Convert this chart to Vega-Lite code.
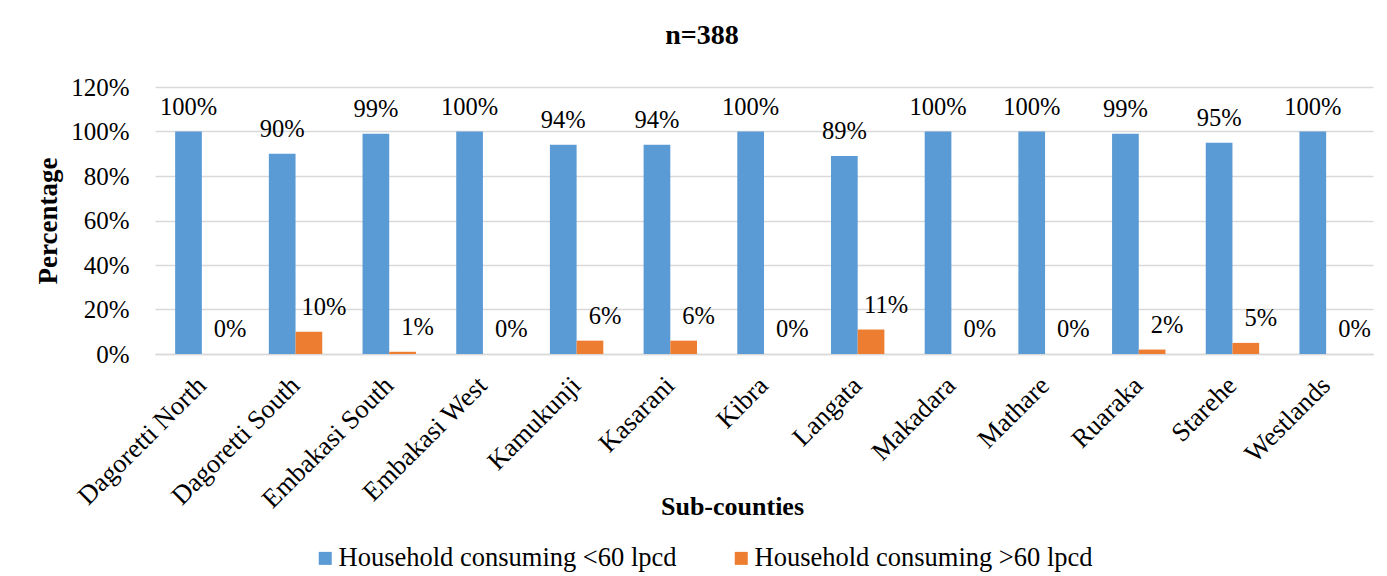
{
  "$schema": "https://vega.github.io/schema/vega-lite/v6.json",
  "width": 1218,
  "height": 267,
  "autosize": {"type": "none"},
  "padding": {"left": 155, "top": 87, "right": 14, "bottom": 222},
  "background": "white",
  "title": {
    "text": "n=388",
    "font": "Liberation Serif",
    "fontSize": 28,
    "fontWeight": "bold",
    "color": "black",
    "anchor": "middle",
    "frame": "group",
    "dx": -62,
    "offset": 25
  },
  "config": {
    "view": {"stroke": null},
    "font": "Liberation Serif",
    "mark": {"font": "Liberation Serif"},
    "text": {"font": "Liberation Serif"}
  },
  "data": {
    "values": [
      {"subcounty": "Dagoretti North", "series": "Household consuming <60 lpcd", "pct": 1.00},
      {"subcounty": "Dagoretti North", "series": "Household consuming >60 lpcd", "pct": 0.00},
      {"subcounty": "Dagoretti South", "series": "Household consuming <60 lpcd", "pct": 0.90},
      {"subcounty": "Dagoretti South", "series": "Household consuming >60 lpcd", "pct": 0.10},
      {"subcounty": "Embakasi South", "series": "Household consuming <60 lpcd", "pct": 0.99},
      {"subcounty": "Embakasi South", "series": "Household consuming >60 lpcd", "pct": 0.01},
      {"subcounty": "Embakasi West", "series": "Household consuming <60 lpcd", "pct": 1.00},
      {"subcounty": "Embakasi West", "series": "Household consuming >60 lpcd", "pct": 0.00},
      {"subcounty": "Kamukunji", "series": "Household consuming <60 lpcd", "pct": 0.94},
      {"subcounty": "Kamukunji", "series": "Household consuming >60 lpcd", "pct": 0.06},
      {"subcounty": "Kasarani", "series": "Household consuming <60 lpcd", "pct": 0.94},
      {"subcounty": "Kasarani", "series": "Household consuming >60 lpcd", "pct": 0.06},
      {"subcounty": "Kibra", "series": "Household consuming <60 lpcd", "pct": 1.00},
      {"subcounty": "Kibra", "series": "Household consuming >60 lpcd", "pct": 0.00},
      {"subcounty": "Langata", "series": "Household consuming <60 lpcd", "pct": 0.89},
      {"subcounty": "Langata", "series": "Household consuming >60 lpcd", "pct": 0.11},
      {"subcounty": "Makadara", "series": "Household consuming <60 lpcd", "pct": 1.00},
      {"subcounty": "Makadara", "series": "Household consuming >60 lpcd", "pct": 0.00},
      {"subcounty": "Mathare", "series": "Household consuming <60 lpcd", "pct": 1.00},
      {"subcounty": "Mathare", "series": "Household consuming >60 lpcd", "pct": 0.00},
      {"subcounty": "Ruaraka", "series": "Household consuming <60 lpcd", "pct": 0.99},
      {"subcounty": "Ruaraka", "series": "Household consuming >60 lpcd", "pct": 0.02},
      {"subcounty": "Starehe", "series": "Household consuming <60 lpcd", "pct": 0.95},
      {"subcounty": "Starehe", "series": "Household consuming >60 lpcd", "pct": 0.05},
      {"subcounty": "Westlands", "series": "Household consuming <60 lpcd", "pct": 1.00},
      {"subcounty": "Westlands", "series": "Household consuming >60 lpcd", "pct": 0.00}
    ]
  },
  "encoding": {
    "x": {
      "field": "subcounty",
      "type": "nominal",
      "sort": null,
      "scale": {"paddingInner": 0.43, "paddingOuter": 0.215},
      "axis": {
        "title": "Sub-counties",
        "titleFont": "Liberation Serif",
        "titleFontSize": 26,
        "titleFontWeight": "bold",
        "titleColor": "black",
        "titleX": 577,
        "titleY": 160,
        "titleBaseline": "alphabetic",
        "labelAngle": -45,
        "labelAlign": "right",
        "labelBaseline": "middle",
        "labelFont": "Liberation Serif",
        "labelFontSize": 26.5,
        "labelColor": "black",
        "labelPadding": 27,
        "ticks": false,
        "grid": false,
        "domainColor": "#d9d9d9",
        "domainWidth": 1.5
      }
    },
    "xOffset": {
      "field": "series",
      "type": "nominal",
      "sort": ["Household consuming <60 lpcd", "Household consuming >60 lpcd"],
      "scale": {"paddingInner": 0, "paddingOuter": 0}
    },
    "y": {
      "field": "pct",
      "type": "quantitative",
      "scale": {"domain": [0, 1.2]},
      "axis": {
        "title": "Percentage",
        "titleFont": "Liberation Serif",
        "titleFontSize": 27,
        "titleFontWeight": "bold",
        "titleColor": "black",
        "titlePadding": 8,
        "format": ".0%",
        "values": [0, 0.2, 0.4, 0.6, 0.8, 1.0, 1.2],
        "labelFont": "Liberation Serif",
        "labelFontSize": 25,
        "labelColor": "black",
        "labelPadding": 26,
        "ticks": false,
        "domain": false,
        "grid": true,
        "gridColor": "#d9d9d9",
        "gridWidth": 1.5
      }
    }
  },
  "layer": [
    {
      "mark": {"type": "bar"},
      "encoding": {
        "color": {
          "field": "series",
          "type": "nominal",
          "scale": {
            "domain": ["Household consuming <60 lpcd", "Household consuming >60 lpcd"],
            "range": ["#5b9bd5", "#ed7d31"]
          },
          "legend": {
            "title": null,
            "orient": "none",
            "direction": "horizontal",
            "legendX": 157,
            "legendY": 458,
            "symbolType": "square",
            "symbolSize": 169,
            "symbolStrokeWidth": 0,
            "symbolOpacity": 1,
            "labelFont": "Liberation Serif",
            "labelFontSize": 26.5,
            "labelColor": "black",
            "labelOffset": 0,
            "labelLimit": 600,
            "columnPadding": 51
          }
        }
      }
    },
    {
      "transform": [{"filter": "datum.series === 'Household consuming <60 lpcd'"}],
      "mark": {
        "type": "text",
        "font": "Liberation Serif",
        "fontSize": 24.5,
        "color": "black",
        "baseline": "alphabetic",
        "dy": -17
      },
      "encoding": {"text": {"field": "pct", "type": "quantitative", "format": ".0%"}}
    },
    {
      "transform": [{"filter": "datum.series === 'Household consuming >60 lpcd'"}],
      "mark": {
        "type": "text",
        "font": "Liberation Serif",
        "fontSize": 24.5,
        "color": "black",
        "baseline": "alphabetic",
        "dx": 15,
        "dy": -17
      },
      "encoding": {"text": {"field": "pct", "type": "quantitative", "format": ".0%"}}
    }
  ]
}
